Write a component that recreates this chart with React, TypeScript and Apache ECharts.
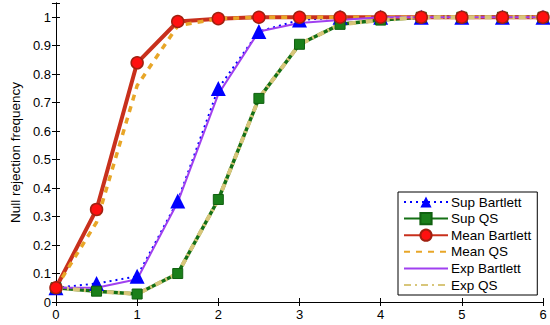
import React, { useEffect, useRef } from "react";
import * as echarts from "echarts";

const xValues = [0, 0.5, 1, 1.5, 2, 2.5, 3, 3.5, 4, 4.5, 5, 5.5, 6];
const supBartlett = [0.05, 0.065, 0.09, 0.355, 0.75, 0.95, 0.99, 1, 1, 1, 1, 1, 1];
const supQS = [0.05, 0.038, 0.028, 0.1, 0.36, 0.715, 0.905, 0.975, 0.99, 1, 1, 1, 1];
const meanBartlett = [0.05, 0.325, 0.84, 0.985, 0.995, 1, 1, 1, 1, 1, 1, 1, 1];
const meanQS = [0.05, 0.28, 0.76, 0.97, 0.995, 1, 1, 1, 1, 1, 1, 1, 1];
const expBartlett = [0.05, 0.05, 0.08, 0.35, 0.73, 0.95, 0.98, 0.99, 1, 1, 1, 1, 1];
const expQS = [0.05, 0.038, 0.028, 0.1, 0.36, 0.715, 0.905, 0.975, 0.99, 1, 1, 1, 1];
const yTicks = [0, 0.1, 0.2, 0.3, 0.4, 0.5, 0.6, 0.7, 0.8, 0.9, 1];
const seriesNames = ["Sup Bartlett", "Sup QS", "Mean Bartlett", "Mean QS", "Exp Bartlett", "Exp QS"];
const noMarkerSeries = ["Mean QS", "Exp Bartlett", "Exp QS"];

const pairs = (ys: number[]) => xValues.map((x, i) => [x, ys[i]]);
const FONT = "Liberation Sans";

export default function App() {
  const ref = useRef<HTMLDivElement>(null);
  useEffect(() => {
    if (!ref.current) return;
    const chart = echarts.init(ref.current, undefined, { renderer: "svg" });
    const axisLine = { show: true, lineStyle: { color: "#000", width: 1 } };
    chart.setOption({
      animation: false,
      backgroundColor: "#fff",
      grid: { left: 47, right: 7, top: 3, bottom: 23 },
      xAxis: [
        {
          type: "value", min: 0, max: 6, interval: 1,
          axisLine, axisTick: { inside: true, length: 4, lineStyle: { color: "#000" } },
          axisLabel: { color: "#000", fontFamily: FONT, fontSize: 13, margin: 6 },
          splitLine: { show: false },
        },
        {
          type: "value", position: "top", min: 0, max: 6, interval: 1,
          axisLine, axisTick: { inside: true, length: 4, lineStyle: { color: "#000" } },
          axisLabel: { show: false }, splitLine: { show: false },
        },
      ],
      yAxis: [
        {
          type: "value", min: 0, max: 1.05, interval: 0.1,
          axisLine, axisTick: { inside: true, length: 4, lineStyle: { color: "#000" } },
          axisLabel: {
            color: "#000", fontFamily: FONT, fontSize: 13, margin: 5,
            formatter: (v: number) => {
              const t = yTicks.find((k) => Math.abs(k - v) < 1e-6);
              return t === undefined ? "" : String(t);
            },
          },
          splitLine: { show: false },
          name: "Null rejection frequency", nameLocation: "middle", nameGap: 30,
          nameRotate: 90,
          nameTextStyle: { color: "#000", fontFamily: FONT, fontSize: 13.5 },
        },
        {
          type: "value", position: "right", min: 0, max: 1.05, interval: 0.1,
          axisLine, axisTick: { inside: true, length: 4, lineStyle: { color: "#000" } },
          axisLabel: { show: false }, splitLine: { show: false },
        },
      ],
      legend: {
        orient: "vertical", left: 398, top: 192,
        backgroundColor: "#fff", borderColor: "#000", borderWidth: 1,
        padding: [3, 6, 3, 5], itemGap: 2.6, itemWidth: 44, itemHeight: 14,
        textStyle: { color: "#000", fontFamily: FONT, fontSize: 13.5, padding: [0, 0, 0, -2] },
        data: seriesNames.map((n) =>
          noMarkerSeries.includes(n) ? { name: n, itemStyle: { opacity: 0 } } : { name: n }
        ),
      },
      series: [
        {
          name: "Sup Bartlett", type: "line", data: pairs(supBartlett),
          symbol: "triangle", symbolSize: 15,
          itemStyle: { color: "#0000ff" },
          lineStyle: { color: "#0000ff", width: 2, type: [2, 4] },
        },
        {
          name: "Sup QS", type: "line", data: pairs(supQS),
          symbol: "rect", symbolSize: 10,
          itemStyle: { color: "#1a7f1a", borderColor: "#106010", borderWidth: 1 },
          lineStyle: { color: "#157015", width: 3.5 },
        },
        {
          name: "Mean Bartlett", type: "line", data: pairs(meanBartlett),
          symbol: "circle", symbolSize: 12,
          itemStyle: { color: "#ff1010", borderColor: "#a02010", borderWidth: 1.5 },
          lineStyle: { color: "#c8301c", width: 4 },
        },
        {
          name: "Mean QS", type: "line", data: pairs(meanQS),
          symbol: "none",
          itemStyle: { color: "#e8a628" },
          lineStyle: { color: "#e8a628", width: 3.5, type: [6, 6] },
        },
        {
          name: "Exp Bartlett", type: "line", data: pairs(expBartlett),
          symbol: "none",
          itemStyle: { color: "#a040f0" },
          lineStyle: { color: "#a040f0", width: 2 },
        },
        {
          name: "Exp QS", type: "line", data: pairs(expQS),
          symbol: "none",
          itemStyle: { color: "#d8c67a" },
          lineStyle: { color: "#d8c67a", width: 4, type: [7, 4, 2, 4] },
        },
      ],
    });
    return () => chart.dispose();
  }, []);
  return <div ref={ref} style={{ width: 550, height: 325, position: "absolute", left: 0, top: 0 }} />;
}
